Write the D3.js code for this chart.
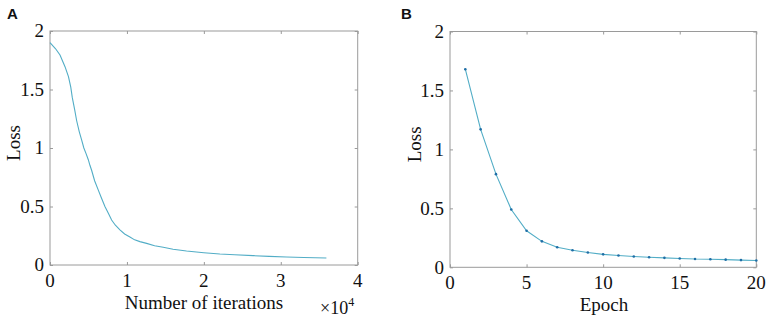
<!DOCTYPE html>
<html><head><meta charset="utf-8">
<script src="https://cdn.jsdelivr.net/npm/d3@7"></script>
<style>body{margin:0;background:#fff}svg{display:block}</style>
</head><body>
<script>
// Panel A: loss vs number of iterations
const iterA = [0, 700, 1300, 1950, 2400, 2700, 2900, 3200, 3460, 3800, 4110, 4400, 4700, 4980, 5200, 5410, 5800, 6280, 6700, 7140, 7600, 8010, 8500, 9090, 9700, 10390, 11000, 11690, 12560, 13600, 14720, 16000, 17750, 20000, 22080, 24000, 26400, 28500, 30740, 33000, 35930];
const lossA = [1.90, 1.85, 1.795, 1.695, 1.61, 1.52, 1.43, 1.33, 1.235, 1.14, 1.07, 1.00, 0.95, 0.90, 0.85, 0.81, 0.72, 0.64, 0.57, 0.50, 0.44, 0.385, 0.34, 0.30, 0.265, 0.24, 0.215, 0.20, 0.185, 0.165, 0.151, 0.135, 0.12, 0.105, 0.094, 0.087, 0.08, 0.074, 0.068, 0.064, 0.06];
const xTicksA = [0, 10000, 20000, 30000, 40000];
const xTickLabelsA = ["0", "1", "2", "3", "4"];
// Panel B: loss vs epoch
const epochB = [1, 2, 3, 4, 5, 6, 7, 8, 9, 10, 11, 12, 13, 14, 15, 16, 17, 18, 19, 20];
const lossB = [1.68, 1.17, 0.79, 0.49, 0.31, 0.22, 0.17, 0.145, 0.125, 0.11, 0.10, 0.092, 0.085, 0.08, 0.075, 0.07, 0.068, 0.065, 0.061, 0.058];
const xTicksB = [0, 5, 10, 15, 20];
const yTicks = [0, 0.5, 1, 1.5, 2];
const yTickLabels = ["0", "0.5", "1", "1.5", "2"];

const W = 768, H = 321;
const svg = d3.select("body").append("svg").attr("width", W).attr("height", H);
const serif = "Liberation Serif, Times New Roman, Times, serif";
const lineColor = "#52adc6", markColor = "#1f6ea6", boxColor = "#9a9a9a";

function panel(opt) {
  const g = svg.append("g");
  const x = d3.scaleLinear().domain(opt.xDomain).range(opt.xRange);
  const y = d3.scaleLinear().domain([0, 2]).range(opt.yRange);
  const [x0, x1] = opt.xRange, [y0, y1] = opt.yRange;
  g.append("rect").attr("x", x0).attr("y", y1).attr("width", x1 - x0).attr("height", y0 - y1)
    .attr("fill", "none").attr("stroke", boxColor).attr("stroke-width", 1);
  const tl = 3;
  const ax = (axis, tr) => {
    const a = g.append("g").attr("transform", tr).call(axis);
    a.select(".domain").remove();
    a.selectAll("line").attr("stroke", boxColor);
    a.selectAll("text").remove();
  };
  ax(d3.axisBottom(x).tickValues(opt.xTicks).tickSize(-tl), `translate(0,${y0})`);
  ax(d3.axisTop(x).tickValues(opt.xTicks).tickSize(-tl), `translate(0,${y1})`);
  ax(d3.axisLeft(y).tickValues(yTicks).tickSize(-tl), `translate(${x0},0)`);
  ax(d3.axisRight(y).tickValues(yTicks).tickSize(-tl), `translate(${x1},0)`);
  g.selectAll(".xl").data(opt.xTicks).join("text")
    .attr("x", d => x(d)).attr("y", y0 + 22).attr("text-anchor", "middle")
    .style("font-family", serif).attr("font-size", 19).attr("fill", "#111")
    .text((d, i) => opt.xLabels[i]);
  g.selectAll(".yl").data(yTicks).join("text")
    .attr("x", x0 - 6).attr("y", d => y(d)).attr("dy", "0.33em").attr("text-anchor", "end")
    .style("font-family", serif).attr("font-size", 19).attr("fill", "#111")
    .text((d, i) => yTickLabels[i]);
  g.append("text").attr("x", opt.xTitleX).attr("y", opt.xTitleY).attr("text-anchor", "middle")
    .style("font-family", serif).attr("font-size", 19).attr("fill", "#111").text(opt.xTitle);
  g.append("text").attr("transform", `translate(${opt.yTitleX},${(y0 + y1) / 2 - 5}) rotate(-90)`)
    .attr("text-anchor", "middle").style("font-family", serif).attr("font-size", 19).attr("fill", "#111").text("Loss");
  g.append("text").attr("x", opt.letterX).attr("y", 19).style("font-family", "Liberation Sans, Arial, sans-serif")
    .attr("font-weight", "bold").attr("font-size", 15).attr("fill", "#111").text(opt.letter);
  const line = d3.line().x(d => x(d[0])).y(d => y(d[1]));
  g.append("path").datum(opt.xs.map((v, i) => [v, opt.ys[i]])).attr("d", line)
    .attr("fill", "none").attr("stroke", lineColor).attr("stroke-width", 1.1);
  if (opt.markers) {
    g.selectAll(".m").data(opt.xs.map((v, i) => [v, opt.ys[i]])).join("circle")
      .attr("cx", d => x(d[0])).attr("cy", d => y(d[1])).attr("r", 1.3).attr("fill", markColor);
  }
  return {x, y, g};
}

const A = panel({xDomain: [0, 40000], xRange: [50, 357.7], yRange: [265, 31], xTicks: xTicksA, xLabels: xTickLabelsA,
  xTitle: "Number of iterations", xTitleX: 204, xTitleY: 309, yTitleX: 20, letter: "A", letterX: 7,
  xs: iterA, ys: lossA, markers: false});
const mult = A.g.append("text").attr("x", 320).attr("y", 314).style("font-family", serif).attr("font-size", 18).attr("fill", "#111");
mult.append("tspan").text("\u00d710");
mult.append("tspan").attr("dy", -8).attr("font-size", 12).text("4");

panel({xDomain: [0, 20], xRange: [450, 756.3], yRange: [267.3, 31.5], xTicks: xTicksB, xLabels: xTicksB.map(String),
  xTitle: "Epoch", xTitleX: 604, xTitleY: 311, yTitleX: 421, letter: "B", letterX: 401,
  xs: epochB, ys: lossB, markers: true});
</script>
</body></html>
